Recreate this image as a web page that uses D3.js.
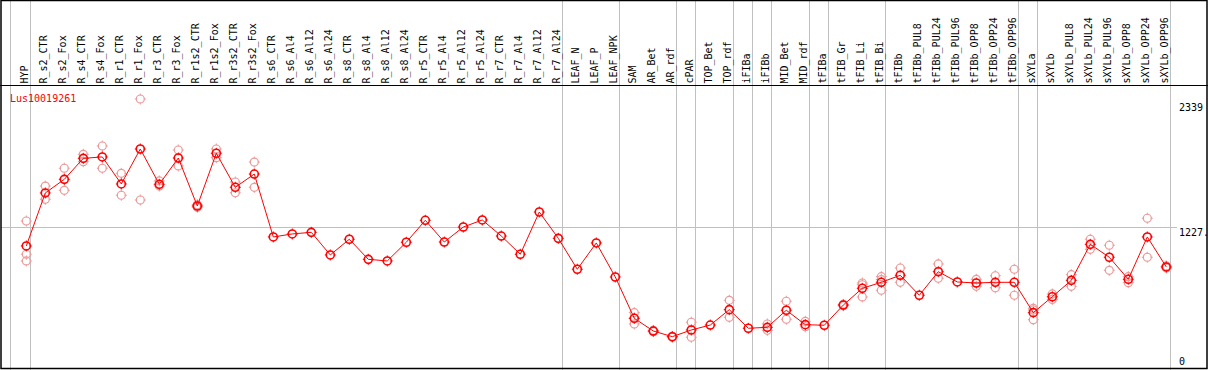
<!DOCTYPE html>
<html>
  <head>
    <meta charset="utf-8"/>
    <title>Lus10019261</title>
    <script src="https://cdnjs.cloudflare.com/ajax/libs/d3/7.8.5/d3.min.js"></script>
    <style>
      body { margin: 0; background: #fff; }
      text { font-family: "DejaVu Sans Mono", monospace; font-size: 10px; }
    </style>
  </head>
  <body>

    <script>

      var width = 1209;
      var height = 370;

      var geneName = "Lus10019261";

      var columns = [
        "HYP", "R_s2_CTR", "R_s2_Fox", "R_s4_CTR", "R_s4_Fox", "R_r1_CTR", "R_r1_Fox",
        "R_r3_CTR", "R_r3_Fox", "R_r1s2_CTR", "R_r1s2_Fox", "R_r3s2_CTR", "R_r3s2_Fox",
        "R_s6_CTR", "R_s6_Al4", "R_s6_Al12", "R_s6_Al24", "R_s8_CTR", "R_s8_Al4", "R_s8_Al12",
        "R_s8_Al24", "R_r5_CTR", "R_r5_Al4", "R_r5_Al12", "R_r5_Al24", "R_r7_CTR", "R_r7_Al4",
        "R_r7_Al12", "R_r7_Al24", "LEAF_N", "LEAF_P", "LEAF_NPK", "SAM", "AR_Bet", "AR_rdf",
        "cPAR", "TOP_Bet", "TOP_rdf", "iFIBa", "iFIBb", "MID_Bet", "MID_rdf", "tFIBa",
        "tFIB_Gr", "tFIB_Li", "tFIB_Bi", "tFIBb", "tFIBb_PUL8", "tFIBb_PUL24", "tFIBb_PUL96",
        "tFIBb_OPP8", "tFIBb_OPP24", "tFIBb_OPP96", "sXYLa", "sXYLb", "sXYLb_PUL8",
        "sXYLb_PUL24", "sXYLb_PUL96", "sXYLb_OPP8", "sXYLb_OPP24", "sXYLb_OPP96"
      ];

      // mean expression per column
      var meanValues = [
        1066, 1525, 1643, 1825, 1837, 1603, 1906, 1600, 1828, 1412, 1869, 1574, 1689,
        1144, 1170, 1184, 988, 1124, 950, 936, 1098, 1288, 1100, 1230, 1291, 1152, 994,
        1360, 1132, 864, 1092, 797, 439, 329, 280, 338, 381, 514, 353, 361, 509, 384, 379,
        554, 699, 751, 812, 639, 843, 754, 745, 751, 751, 488, 626, 768, 1080, 968, 777,
        1144, 884
      ];

      // single replicates per column
      var replicates = [
        [1282, 994, 936], [1585, 1470], [1739, 1548], [1860, 1796], [1932, 1739],
        [1695, 1505], [2339, 1464], [1629, 1585], [1897, 1759], [1401, 1423],
        [1906, 1831], [1620, 1527], [1793, 1574],
        [], [], [], [], [], [], [], [], [], [], [], [], [], [], [], [], [], [], [],
        [488, 440, 390], [335, 323], [283, 276], [405, 275], [], [595, 448], [],
        [390, 335], [587, 431], [413, 366], [], [560, 548], [745, 730, 624],
        [800, 775, 682], [875, 751], [], [910, 786], [], [777, 716], [808, 704],
        [864, 639], [526, 511, 427], [650, 603], [817, 716], [1124, 1037],
        [1072, 855], [800, 748], [1306, 968], [893, 875]
      ];

      // a grey separator is drawn after each of these columns
      var groupEnds = [
        "HYP", "R_r7_Al24", "LEAF_NPK", "AR_rdf", "cPAR", "TOP_rdf", "iFIBa", "iFIBb",
        "MID_rdf", "tFIBa", "tFIB_Bi", "tFIBb_OPP96", "sXYLa", "sXYLb_OPP96"
      ];

      var maxValue = 2339;
      var refValue = 1227;
      var tickValues = [2339, 1227, 0];
      var tickLabels = ["2339", "1227.", "0"];

      var headerBottom = 85;
      var plotBottom = 369;

      var svg = d3.select("body").append("svg")
        .attr("width", width)
        .attr("height", height);

      var xScale = d3.scalePoint().domain(columns).range([26.3, 1166.3]);
      var yScale = d3.scaleLinear().domain([0, maxValue]).range([plotBottom, 99]);

      // separators
      svg.append("line")
        .attr("x1", 10.5).attr("x2", 10.5)
        .attr("y1", 0).attr("y2", height)
        .attr("stroke", "#c0c0c0");

      svg.selectAll("line.sep").data(groupEnds).enter().append("line")
        .attr("class", "sep")
        .attr("x1", function (d){ return Math.round(xScale(d) + 4) + 0.5; })
        .attr("x2", function (d){ return Math.round(xScale(d) + 4) + 0.5; })
        .attr("y1", 0)
        .attr("y2", height)
        .attr("stroke", "#c0c0c0");

      // reference line
      svg.append("line")
        .attr("x1", 1).attr("x2", 1177)
        .attr("y1", Math.round(yScale(refValue)) + 0.5)
        .attr("y2", Math.round(yScale(refValue)) + 0.5)
        .attr("stroke", "#c0c0c0");

      // frame
      svg.append("rect")
        .attr("x", 1).attr("y", 0.5)
        .attr("width", 1206).attr("height", 368)
        .attr("fill", "none")
        .attr("stroke", "#000")
        .attr("stroke-width", 1.5);

      svg.append("line")
        .attr("x1", 0).attr("x2", 1208)
        .attr("y1", headerBottom + 0.5).attr("y2", headerBottom + 0.5)
        .attr("stroke", "#000");

      // column labels
      svg.selectAll("text.col").data(columns).enter().append("text")
        .attr("class", "col")
        .attr("transform", function (d){
          return "translate(" + (xScale(d) + 2) + "," + 83.5 + ") rotate(-90)";
        })
        .attr("fill", "#000")
        .text(function (d){ return d; });

      // value labels on the right
      var labelDy = [12, 9, -4];
      svg.selectAll("text.tick").data(tickValues).enter().append("text")
        .attr("class", "tick")
        .attr("x", 1179)
        .attr("y", function (d, i){ return yScale(d) + labelDy[i]; })
        .attr("fill", "#000")
        .text(function (d, i){ return tickLabels[i]; });

      svg.append("text")
        .attr("x", 10)
        .attr("y", 101.5)
        .attr("fill", "#ff0000")
        .text(geneName);

      function marker(g, cx, cy, color, sw){
        g.append("circle")
          .attr("cx", cx).attr("cy", cy).attr("r", 4)
          .attr("fill", "none")
          .attr("stroke", color)
          .attr("stroke-width", sw);
        g.append("path")
          .attr("d", "M" + cx + "," + (cy - 5.5) + "v2M" + cx + "," + (cy + 3.5) + "v2" +
                     "M" + (cx - 5.5) + "," + cy + "h2M" + (cx + 3.5) + "," + cy + "h2")
          .attr("stroke", color)
          .attr("stroke-width", 1);
      }

      // replicates
      var repPoints = [];
      columns.forEach(function (c, i){
        replicates[i].forEach(function (v){ repPoints.push({col: c, value: v}); });
      });
      var repLayer = svg.append("g");
      repPoints.forEach(function (d){
        marker(repLayer, xScale(d.col), yScale(d.value), "#eb9a9a", 1.2);
      });

      // mean line
      var line = d3.line()
        .x(function (d, i){ return xScale(columns[i]); })
        .y(function (d){ return yScale(d); });

      var meanLayer = svg.append("g");
      meanValues.forEach(function (v, i){
        marker(meanLayer, xScale(columns[i]), yScale(v), "#ff0000", 1.6);
      });

      svg.append("path")
        .datum(meanValues)
        .attr("d", line)
        .attr("fill", "none")
        .attr("stroke", "#ff0000")
        .attr("stroke-width", 1);

    </script>

  </body>
</html>
